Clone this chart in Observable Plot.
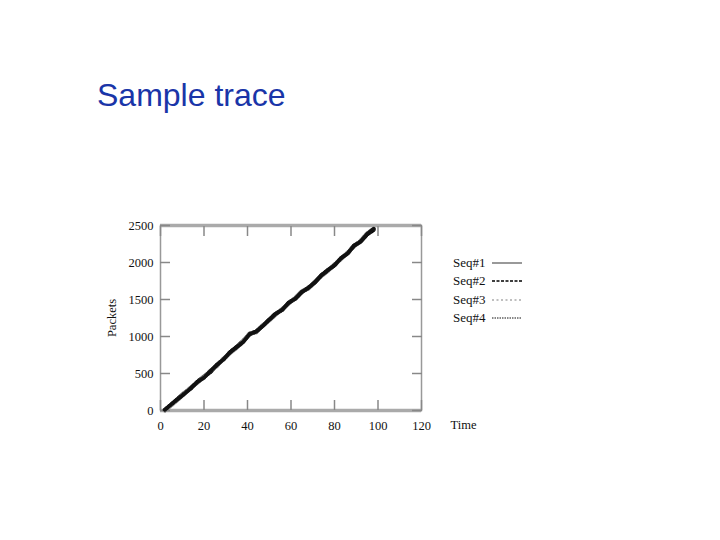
<!DOCTYPE html>
<html><head><meta charset="utf-8">
<script src="https://cdn.jsdelivr.net/npm/d3@7"></script>
<script src="https://cdn.jsdelivr.net/npm/@observablehq/plot@0.6"></script>
<style>
body{margin:0;background:#fff;width:720px;height:540px;overflow:hidden;position:relative;}
#title{position:absolute;left:97px;top:77px;font-family:"Liberation Sans",Arial,sans-serif;font-size:32px;color:#1a35a8;}
#chart{position:absolute;left:0;top:0;}
#legend{position:absolute;left:453px;top:254px;font-family:"Liberation Serif",serif;font-size:13px;color:#111;}
#legend div{height:18.3px;display:flex;align-items:center;}
#legend span{display:inline-block;width:39px;}
</style></head>
<body>
<div id="chart"></div>
<div id="title">Sample trace</div>
<div id="legend"></div>
<script>
const time = [2,5,8,11,14,17,20,23,26,29,32,35,38,41,44,47,50,53,56,59,62,65,68,71,74,77,80,83,86,89,92,95,98];
const seq1 = [0,75,150,230,310,380,450,530,610,700,780,850,930,1040,1060,1150,1220,1300,1370,1450,1520,1610,1650,1740,1820,1890,1970,2050,2130,2220,2290,2390,2450];
const seq2 = [5,80,160,240,300,390,460,520,620,690,790,860,940,1030,1070,1140,1230,1310,1360,1460,1510,1600,1660,1730,1830,1900,1960,2060,2120,2230,2280,2380,2440];
const seq3 = [0,70,145,235,315,375,455,540,600,705,775,845,935,1045,1055,1155,1215,1295,1375,1445,1525,1615,1645,1745,1815,1885,1975,2045,2135,2215,2295,2395,2460];
const seq4 = [10,85,155,225,305,385,445,535,615,695,785,855,925,1035,1065,1145,1225,1305,1365,1455,1515,1605,1655,1735,1825,1895,1965,2055,2125,2225,2285,2385,2455];
const seriesNames = ["Seq#1","Seq#2","Seq#3","Seq#4"];
const xTicks = [0,20,40,60,80,100,120];
const yTicks = [0,500,1000,1500,2000,2500];

const all = [seq1,seq2,seq3,seq4];
const rows = [];
all.forEach((s,i)=>s.forEach((v,j)=>rows.push({t:time[j], p:v, s:seriesNames[i]})));
const styles = {
  "Seq#1":{stroke:"#999",dash:null,w:4, lw:2},
  "Seq#2":{stroke:"#000",dash:"3,1.5",w:4, lw:1.3},
  "Seq#3":{stroke:"#aaa",dash:"2,2.5",w:4, lw:1.6},
  "Seq#4":{stroke:"#111",dash:"1.5,1",w:4, lw:1}
};
const lineMarks = seriesNames.map(n => Plot.line(rows.filter(r=>r.s===n), {x:"t", y:"p", stroke:styles[n].stroke, strokeWidth:styles[n].w, strokeDasharray:styles[n].dash}));
const tickFont = {fontFamily:"Liberation Serif, serif", fontSize:12.5, tickFormat:d=>String(d)};
const chart = Plot.plot({
  width:720, height:540,
  marginLeft:160, marginRight:299, marginTop:225, marginBottom:130,
  x:{domain:[0,120]},
  y:{domain:[0,2500]},
  style:{fontFamily:"Liberation Serif, serif", fontSize:"12.5px", color:"#111", background:"transparent"},
  marks:[
    Plot.frame({stroke:"#999", strokeWidth:1.5}),
    Plot.ruleY([0,2500], {stroke:"#aaa", strokeWidth:3.5}),
    Plot.axisX(xTicks, {anchor:"bottom", tickSize:-10, text:null, stroke:"#888", strokeWidth:1.5, label:null}),
    Plot.axisX(xTicks, {anchor:"top", tickSize:-10, text:null, stroke:"#888", strokeWidth:1.5, label:null}),
    Plot.axisY(yTicks, {anchor:"left", tickSize:-10, text:null, stroke:"#888", strokeWidth:1.5, label:null}),
    Plot.axisY(yTicks, {anchor:"right", tickSize:-10, text:null, stroke:"#888", strokeWidth:1.5, label:null}),
    Plot.axisX(xTicks, {anchor:"bottom", tickSize:0, tickPadding:11, label:null, ...tickFont}),
    Plot.axisY(yTicks, {anchor:"left", tickSize:0, tickPadding:7, label:"Packets", labelAnchor:"center", labelArrow:"none", labelOffset:53, ...tickFont}),
    Plot.text(["Time"], {frameAnchor:"bottom-right", textAnchor:"start", dx:29, dy:18, fontSize:12.5, fontFamily:"Liberation Serif, serif", fill:"#111"}),
    ...lineMarks
  ]
});
document.getElementById("chart").appendChild(chart);
const leg = document.getElementById("legend");
seriesNames.forEach(n=>{
  const st = styles[n];
  const d = document.createElement("div");
  d.innerHTML = `<span>${n}</span><svg width="32" height="6"><line x1="0" y1="3" x2="30" y2="3" stroke="${st.stroke}" stroke-width="${st.lw}" ${st.dash?`stroke-dasharray="${st.dash}"`:""}/></svg>`;
  leg.appendChild(d);
});
</script>
</body></html>
